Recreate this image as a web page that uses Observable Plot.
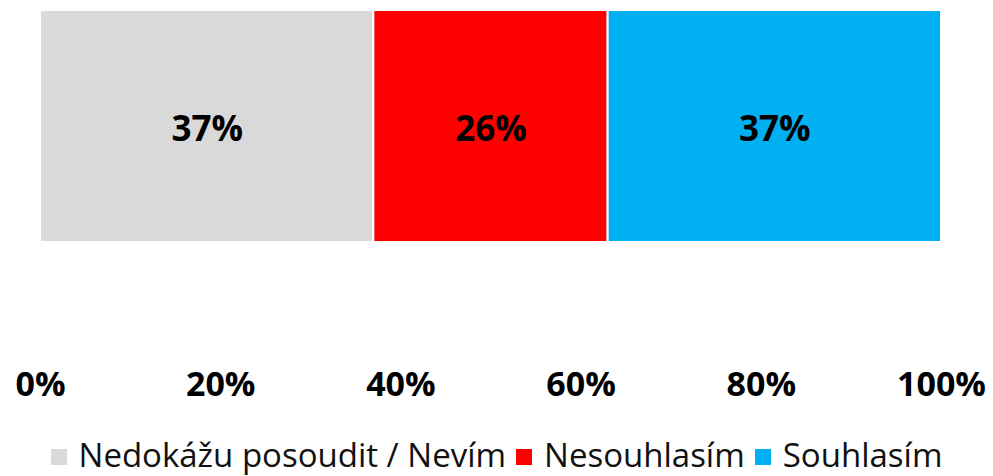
<!DOCTYPE html>
<html>
<head>
<meta charset="utf-8">
<script src="https://cdn.jsdelivr.net/npm/d3@7"></script>
<script src="https://cdn.jsdelivr.net/npm/@observablehq/plot@0.6"></script>
<style>
  html, body { margin: 0; padding: 0; background: #fff; }
  body { width: 993px; height: 476px; overflow: hidden; font-family: "Open Sans", sans-serif; }
  #legend { display: flex; justify-content: center; align-items: center; height: 46px; font-size: 33px; color: #111; white-space: nowrap; margin-top: 1px; }
  #legend .item { display: flex; align-items: center; margin: 0 5px; }
  #legend .sw { width: 16px; height: 16px; margin-right: 12px; margin-top: 5px; }
</style>
</head>
<body>
<div id="chart"></div>
<div id="legend"></div>
<script>
const categories = ["Nedokážu posoudit / Nevím", "Nesouhlasím", "Souhlasím"];
const values = [37, 26, 37];
const colors = ["#d9d9d9", "#ff0000", "#00b0f0"];
const tickValues = [0, 20, 40, 60, 80, 100];
const tickLabels = ["0%", "20%", "40%", "60%", "80%", "100%"];

const data = categories.map((c, i) => ({category: c, value: values[i], row: "all"}));

const chart = Plot.plot({
  width: 993,
  height: 430,
  marginLeft: 40,
  marginRight: 52,
  marginTop: 10,
  marginBottom: 188,
  style: { fontFamily: "'Open Sans', sans-serif", background: "#fff" },
  x: { domain: [0, 100] },
  y: { domain: ["all"], padding: 0, axis: null },
  color: { domain: categories, range: colors },
  marks: [
    Plot.barX(data, Plot.stackX({
      x: "value", y: "row", fill: "category", stroke: "#fff", strokeWidth: 2, order: null
    })),
    Plot.text(data, Plot.stackX({
      x: "value", y: "row", z: "category", order: null,
      text: d => d.value + "%",
      fontSize: 35, fontWeight: "bold", fill: "#000", dy: 3
    })),
    Plot.axisX({
      ticks: tickValues,
      tickFormat: (d) => tickLabels[tickValues.indexOf(d)],
      tickSize: 0,
      tickPadding: 129,
      fontSize: 34,
      fontWeight: "bold",
      fill: "#000",
      label: null
    })
  ]
});
document.getElementById("chart").appendChild(chart);

const legend = document.getElementById("legend");
categories.forEach((c, i) => {
  const item = document.createElement("div");
  item.className = "item";
  const sw = document.createElement("span");
  sw.className = "sw";
  sw.style.background = colors[i];
  const t = document.createElement("span");
  t.textContent = c;
  item.appendChild(sw);
  item.appendChild(t);
  legend.appendChild(item);
});
</script>
</body>
</html>
